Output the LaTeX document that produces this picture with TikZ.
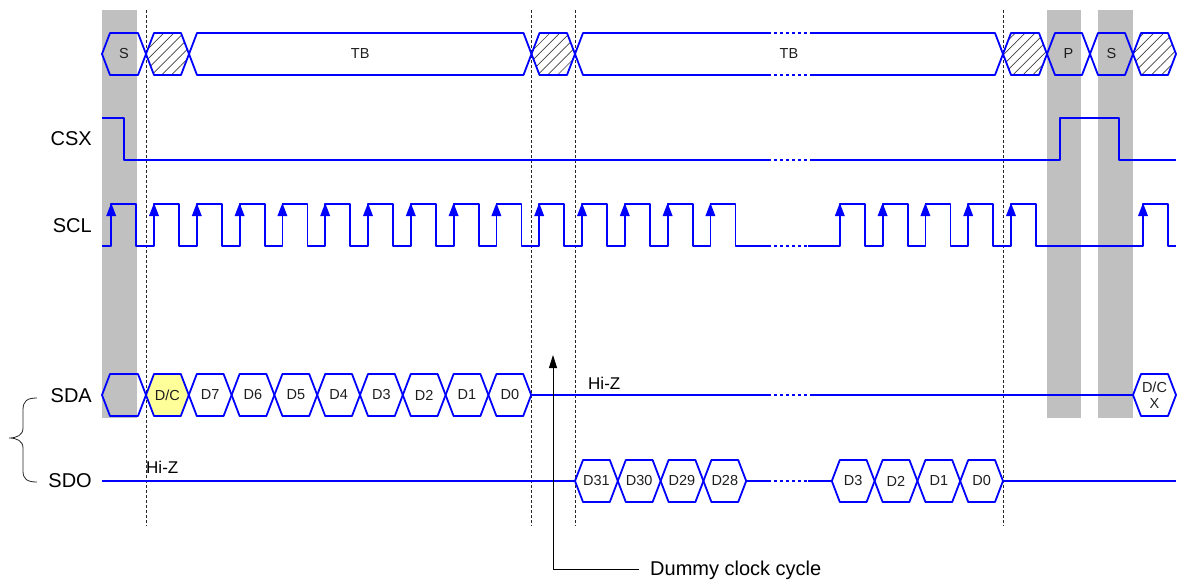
\documentclass[tikz,border=0pt]{standalone}
\usepackage{fontspec}
\setmainfont{Liberation Sans}
\usetikzlibrary{patterns.meta,arrows.meta}
\definecolor{wblue}{RGB}{0,0,255}
\definecolor{bargray}{RGB}{192,192,192}
\definecolor{dcyellow}{RGB}{255,255,153}
\definecolor{hatchgray}{RGB}{64,64,64}
\definecolor{txtcol}{RGB}{30,30,30}
\newcounter{cellno}
\newcommand\hexcell[5][]{%
  \stepcounter{cellno}%
  \draw[wave,#1] (#2,#4) -- ({#2+8},{#4-21}) -- ({#3-8},{#4-21}) -- (#3,#4) -- ({#3-8},{#4+21}) -- ({#2+8},{#4+21}) -- cycle;%
  \node[celltext] (cell\arabic{cellno}) at ({(#2+#3)/2},#4) {#5};}
\tikzset{
  wave/.style={draw=wblue, line width=1.8pt, line join=round},
  dotgap/.style={draw=wblue, line width=1.8pt, dash pattern=on 3pt off 3pt},
  hatched/.style={pattern={Lines[angle=45,distance=7pt,line width=0.7pt]}, pattern color=hatchgray},
  celltext/.style={font=\fontsize{14.5}{16}\selectfont, text=txtcol, inner sep=0pt, align=center},
  siglabel/.style={font=\fontsize{20}{22}\selectfont, anchor=base east, inner sep=0pt},
  hiz/.style={font=\fontsize{17}{19}\selectfont, anchor=base west, inner sep=0pt},
  vdash/.style={draw=black!85, line width=0.7pt, dash pattern=on 3pt off 2pt},
  bar/.style={fill=bargray, draw=none}
}
\begin{document}
\begin{tikzpicture}[x=1pt,y=-1pt]
\useasboundingbox (0,0) rectangle (1180,583);
% gray bars
\fill[bar] (102,10) rectangle (136.5,418);
\fill[bar] (1047,10) rectangle (1081,418);
\fill[bar] (1098,10) rectangle (1133,418);
% vertical dashed lines
\foreach \x in {146,531.5,575,1003} \draw[vdash] (\x,10) -- (\x,526);
% ---------- top bus ----------
\hexcell{102}{146}{54}{S}
\hexcell[hatched]{146}{189}{54}{}
\hexcell{189}{531.5}{54}{TB}
\hexcell[hatched]{531.5}{575}{54}{}
\draw[wave] (768,33) -- (583,33) -- (575,54) -- (583,75) -- (768,75);
\draw[wave] (810,33) -- (995,33) -- (1003,54) -- (995,75) -- (810,75);
\draw[dotgap] (768,33) -- (810,33) (768,75) -- (810,75);
\node[celltext] (tb2) at (789,54) {TB};
\hexcell[hatched]{1003}{1047}{54}{}
\hexcell{1047}{1090}{54}{P}
\hexcell{1090}{1133}{54}{S}
\hexcell[hatched]{1133}{1176}{54}{}
% ---------- labels ----------
\node[siglabel] (lcsx) at (92,146) {CSX};
\node[siglabel] (lscl) at (92,232) {SCL};
\node[siglabel] (lsda) at (92,402) {SDA};
\node[siglabel] (lsdo) at (92,487) {SDO};
% ---------- CSX ----------
\draw[wave, line width=1.5pt] (102,118) -- (124,118) -- (124,160) -- (768,160);
\draw[dotgap, line width=1.5pt] (768,160) -- (810,160);
\draw[wave, line width=1.5pt] (810,160) -- (1060,160) -- (1060,118) -- (1119,118) -- (1119,160) -- (1176,160);
% ---------- SCL ----------
\draw[wave] (102,246) \foreach \k in {-1,...,13}{ -- ({154+42.8*\k},246) -- ({154+42.8*\k},204) -- ({179+42.8*\k},204) -- ({179+42.8*\k},246) } -- (768,246);
\draw[dotgap] (768,246) -- (808,246);
\draw[wave] (808,246) \foreach \j in {4,3,2,1,0}{ -- ({1011-42.8*\j},246) -- ({1011-42.8*\j},204) -- ({1036-42.8*\j},204) -- ({1036-42.8*\j},246) } -- (1143,246) -- (1143,204) -- (1168,204) -- (1168,246) -- (1176,246);
\foreach \k in {-1,...,13} \fill[wblue] ({154+42.8*\k},203) -- ++(-5,13) -- ++(10,0) -- cycle;
\foreach \x in {839.8,882.6,925.4,968.2,1011,1143} \fill[wblue] (\x,203) -- ++(-5,13) -- ++(10,0) -- cycle;
% ---------- SDA ----------
\hexcell{102}{146}{395}{}
\hexcell[fill=dcyellow]{146}{188.8}{395}{D/C}
\foreach \lab [count=\k] in {D7,D6,D5,D4,D3,D2,D1,D0}{
  \pgfmathsetmacro\ca{146+42.8*\k}\pgfmathsetmacro\cb{\ca+42.8}
  \hexcell{\ca}{\cb}{395}{\lab}}
\draw[wave] (531.2,395) -- (768,395);
\draw[dotgap] (768,395) -- (810,395);
\draw[wave] (810,395) -- (1133,395);
\hexcell{1133}{1176}{395}{D/C\\X}
\node[hiz] (hizsda) at (588,389) {Hi-Z};
% ---------- SDO ----------
\draw[wave] (102,481) -- (575,481);
\foreach \lab [count=\k] in {D31,D30,D29,D28}{
  \pgfmathsetmacro\ca{575+42.8*(\k-1)}\pgfmathsetmacro\cb{\ca+42.8}
  \hexcell{\ca}{\cb}{481}{\lab}}
\draw[wave] (746.2,481) -- (768,481);
\draw[dotgap] (768,481) -- (808,481);
\draw[wave] (808,481) -- (831.8,481);
\foreach \lab [count=\k] in {D3,D2,D1,D0}{
  \pgfmathsetmacro\ca{831.8+42.8*(\k-1)}\pgfmathsetmacro\cb{\ca+42.8}
  \hexcell{\ca}{\cb}{481}{\lab}}
\draw[wave] (1003,481) -- (1176,481);
\node[hiz] (hizsdo) at (146,473) {Hi-Z};
% ---------- brace ----------
\draw[line width=0.8pt, black!85] (37,398) .. controls (27,398) and (23,401) .. (23,410) -- (23,428) .. controls (23,435) and (17,438) .. (9,438) .. controls (17,438) and (23,441) .. (23,448) -- (23,471) .. controls (23,479) and (27,482) .. (37,482);
% ---------- dummy clock annotation ----------
\node[font=\fontsize{20}{22}\selectfont, anchor=base west, inner sep=0pt] (dummy) at (650,575) {Dummy clock cycle};
\coordinate (dstart) at (639,569);
\coordinate (dtip) at (553,355);
\draw[line width=0.9pt, -{Triangle[length=13pt,width=8pt]}] (dstart) -| (dtip);
\end{tikzpicture}
\end{document}
